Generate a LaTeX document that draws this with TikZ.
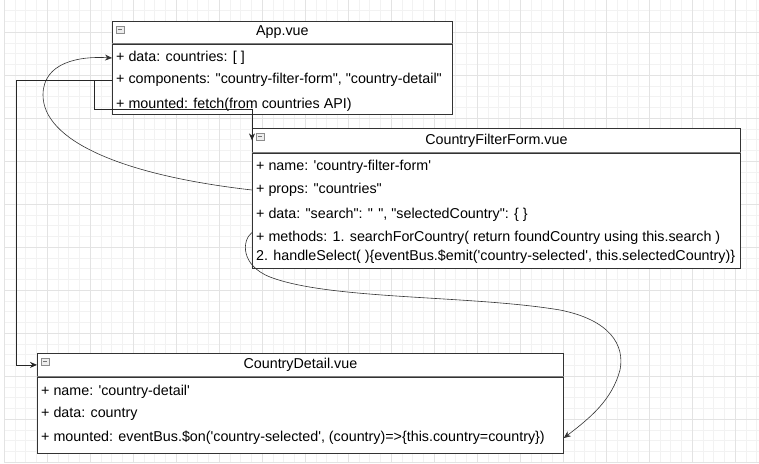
\documentclass[tikz,border=0pt]{standalone}
\usepackage{fontspec}
\setmainfont{Liberation Sans}
\usetikzlibrary{arrows.meta,calc}
\tikzset{
  gridminor/.style={draw=black!5, line width=0.5pt},
  gridmajor/.style={draw=black!11, line width=0.6pt},
  hdrbox/.style={draw=black!80, line width=0.8pt, fill=white, anchor=north west, inner sep=0pt,
                 font=\fontsize{14.3}{16}\selectfont},
  bodybox/.style={draw=black!80, line width=0.8pt, fill=white, anchor=north west, inner sep=0pt},
  sepline/.style={draw=black!50, line width=1.1pt},
  row/.style={anchor=west, inner xsep=4pt, inner ysep=1pt, align=left,
              font=\fontsize{14.3}{19}\selectfont},
  conn/.style={draw=black!85, line width=0.8pt},
  curveconn/.style={draw=black!80, line width=0.6pt},
  arr/.style={-{Stealth[length=7pt,width=6pt]}},
  iconbox/.style={draw=black!45, fill=black!7, line width=0.5pt}
}
\begin{document}
\begin{tikzpicture}[x=1pt,y=-1pt]
\useasboundingbox (0,0) rectangle (759,463);
\fill[white] (0,0) rectangle (759,463);
% grid
\foreach \k in {0,...,70} { \draw[gridminor] ({4+\k*10.75},0) -- ({4+\k*10.75},463); }
\foreach \k in {0,...,43} { \draw[gridminor] (4,{-0.25+\k*10.75}) -- (759,{-0.25+\k*10.75}); }
\foreach \k in {0,...,17} { \draw[gridmajor] ({4+\k*43},0) -- ({4+\k*43},463); }
\foreach \k in {1,...,11} { \draw[gridmajor] (4,{-11+\k*43}) -- (759,{-11+\k*43}); }

% App.vue
\node[hdrbox, minimum width=340pt, minimum height=22pt] (app) at (112,21) {App.vue};
\node[bodybox, minimum width=340pt, minimum height=70pt] (appb) at (app.south west) {};
\draw[sepline] (app.south west) -- (app.south east);
\node[row] (app-data) at (112,58) {+ data: countries: [ ]};
\node[row] (app-comp) at (112,80) {+ components: \textquotedbl country-filter-form\textquotedbl, \textquotedbl country-detail\textquotedbl};
\node[row] (app-mnt) at (112,105) {+ mounted: fetch(from countries API)};

% CountryFilterForm.vue
\node[hdrbox, minimum width=488pt, minimum height=24pt] (cff) at (252,128) {CountryFilterForm.vue};
\node[bodybox, minimum width=488pt, minimum height=115pt] (cffb) at (cff.south west) {};
\draw[sepline] (cff.south west) -- (cff.south east);
\node[row] (cff-name) at (252,167) {+ name: \textquotesingle country-filter-form\textquotesingle};
\node[row] (cff-props) at (252,190) {+ props: \textquotedbl countries\textquotedbl};
\node[row] (cff-data) at (252,215) {+ data: \textquotedbl search\textquotedbl: \textquotedbl{} \textquotedbl, \textquotedbl selectedCountry\textquotedbl: \{ \}};
\node[row] (cff-meth) at (252,247.5) {+ methods: 1. searchForCountry( return foundCountry using this.search )\\2. handleSelect( )\{eventBus.\$emit(\textquotesingle country-selected\textquotesingle, this.selectedCountry)\}};

% CountryDetail.vue
\node[hdrbox, minimum width=526pt, minimum height=23pt] (cd) at (37,353) {CountryDetail.vue};
\node[bodybox, minimum width=526pt, minimum height=76pt] (cdb) at (cd.south west) {};
\draw[sepline] (cd.south west) -- (cd.south east);
\node[row] (cd-name) at (37,392) {+ name: \textquotesingle country-detail\textquotesingle};
\node[row] (cd-data) at (37,414) {+ data: country};
\node[row] (cd-mnt) at (37,438) {+ mounted: eventBus.\$on(\textquotesingle country-selected\textquotesingle, (country)=>\{this.country=country\})};

% collapse icons
\foreach \n in {app,cff,cd} {
  \draw[iconbox] ([xshift=4pt,yshift=-5pt]\n.north west) rectangle ([xshift=12pt,yshift=-12pt]\n.north west);
  \draw[draw=black!55, line width=0.6pt] ([xshift=6pt,yshift=-8.5pt]\n.north west) -- ([xshift=10pt,yshift=-8.5pt]\n.north west);
}

% connectors
\coordinate (l1) at (16,80);
\draw[conn, arr] (app-comp.west) -- (l1) |- (cd.west);
\coordinate (l2) at (94,109);
\draw[conn, arr] (app-comp.west) -| (l2) -| (cff.west);
\draw[curveconn, arr] (cff-props.west) .. controls (120,175) and (43,140) .. (43,95)
   .. controls (43,62) and (80,56) .. (app-data.west);
\coordinate (tip) at (cdb.east |- cd-mnt.west);
\draw[curveconn, arr] ([yshift=15pt]cff-meth.west) .. controls (242,240) and (240,265) .. (270,277)
   .. controls (330,300) and (470,295) .. (560,310)
   .. controls (610,320) and (625,345) .. (620,370)
   .. controls (612,400) and (590,418) .. (tip);
\end{tikzpicture}
\end{document}
